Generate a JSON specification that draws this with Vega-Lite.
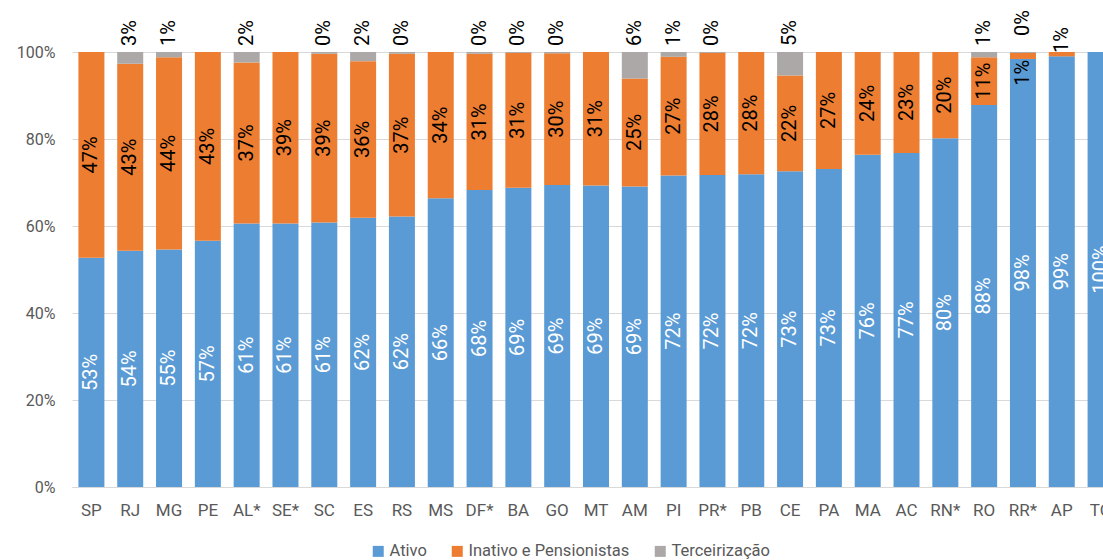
{
  "$schema": "https://vega.github.io/schema/vega-lite/v6.json",
  "width": 1031,
  "height": 435,
  "autosize": {"type": "none"},
  "padding": {"left": 72, "top": 52, "right": 0, "bottom": 73},
  "config": {"view": {"stroke": null}, "font": "Roboto"},
  "data": {"values": [
    {"uf": "SP", "tipo": "Ativo", "valor": 0.527}, {"uf": "SP", "tipo": "Inativo e Pensionistas", "valor": 0.473},
    {"uf": "RJ", "tipo": "Ativo", "valor": 0.543}, {"uf": "RJ", "tipo": "Inativo e Pensionistas", "valor": 0.430}, {"uf": "RJ", "tipo": "Terceirização", "valor": 0.027},
    {"uf": "MG", "tipo": "Ativo", "valor": 0.546}, {"uf": "MG", "tipo": "Inativo e Pensionistas", "valor": 0.442}, {"uf": "MG", "tipo": "Terceirização", "valor": 0.012},
    {"uf": "PE", "tipo": "Ativo", "valor": 0.566}, {"uf": "PE", "tipo": "Inativo e Pensionistas", "valor": 0.434},
    {"uf": "AL*", "tipo": "Ativo", "valor": 0.606}, {"uf": "AL*", "tipo": "Inativo e Pensionistas", "valor": 0.370}, {"uf": "AL*", "tipo": "Terceirização", "valor": 0.024},
    {"uf": "SE*", "tipo": "Ativo", "valor": 0.606}, {"uf": "SE*", "tipo": "Inativo e Pensionistas", "valor": 0.394},
    {"uf": "SC", "tipo": "Ativo", "valor": 0.608}, {"uf": "SC", "tipo": "Inativo e Pensionistas", "valor": 0.388}, {"uf": "SC", "tipo": "Terceirização", "valor": 0.004},
    {"uf": "ES", "tipo": "Ativo", "valor": 0.619}, {"uf": "ES", "tipo": "Inativo e Pensionistas", "valor": 0.360}, {"uf": "ES", "tipo": "Terceirização", "valor": 0.021},
    {"uf": "RS", "tipo": "Ativo", "valor": 0.622}, {"uf": "RS", "tipo": "Inativo e Pensionistas", "valor": 0.374}, {"uf": "RS", "tipo": "Terceirização", "valor": 0.004},
    {"uf": "MS", "tipo": "Ativo", "valor": 0.664}, {"uf": "MS", "tipo": "Inativo e Pensionistas", "valor": 0.336},
    {"uf": "DF*", "tipo": "Ativo", "valor": 0.683}, {"uf": "DF*", "tipo": "Inativo e Pensionistas", "valor": 0.313}, {"uf": "DF*", "tipo": "Terceirização", "valor": 0.004},
    {"uf": "BA", "tipo": "Ativo", "valor": 0.688}, {"uf": "BA", "tipo": "Inativo e Pensionistas", "valor": 0.310}, {"uf": "BA", "tipo": "Terceirização", "valor": 0.002},
    {"uf": "GO", "tipo": "Ativo", "valor": 0.694}, {"uf": "GO", "tipo": "Inativo e Pensionistas", "valor": 0.303}, {"uf": "GO", "tipo": "Terceirização", "valor": 0.003},
    {"uf": "MT", "tipo": "Ativo", "valor": 0.693}, {"uf": "MT", "tipo": "Inativo e Pensionistas", "valor": 0.307},
    {"uf": "AM", "tipo": "Ativo", "valor": 0.691}, {"uf": "AM", "tipo": "Inativo e Pensionistas", "valor": 0.248}, {"uf": "AM", "tipo": "Terceirização", "valor": 0.061},
    {"uf": "PI", "tipo": "Ativo", "valor": 0.716}, {"uf": "PI", "tipo": "Inativo e Pensionistas", "valor": 0.273}, {"uf": "PI", "tipo": "Terceirização", "valor": 0.011},
    {"uf": "PR*", "tipo": "Ativo", "valor": 0.717}, {"uf": "PR*", "tipo": "Inativo e Pensionistas", "valor": 0.281}, {"uf": "PR*", "tipo": "Terceirização", "valor": 0.002},
    {"uf": "PB", "tipo": "Ativo", "valor": 0.719}, {"uf": "PB", "tipo": "Inativo e Pensionistas", "valor": 0.281},
    {"uf": "CE", "tipo": "Ativo", "valor": 0.726}, {"uf": "CE", "tipo": "Inativo e Pensionistas", "valor": 0.220}, {"uf": "CE", "tipo": "Terceirização", "valor": 0.054},
    {"uf": "PA", "tipo": "Ativo", "valor": 0.731}, {"uf": "PA", "tipo": "Inativo e Pensionistas", "valor": 0.269},
    {"uf": "MA", "tipo": "Ativo", "valor": 0.764}, {"uf": "MA", "tipo": "Inativo e Pensionistas", "valor": 0.236},
    {"uf": "AC", "tipo": "Ativo", "valor": 0.768}, {"uf": "AC", "tipo": "Inativo e Pensionistas", "valor": 0.232},
    {"uf": "RN*", "tipo": "Ativo", "valor": 0.802}, {"uf": "RN*", "tipo": "Inativo e Pensionistas", "valor": 0.198},
    {"uf": "RO", "tipo": "Ativo", "valor": 0.878}, {"uf": "RO", "tipo": "Inativo e Pensionistas", "valor": 0.110}, {"uf": "RO", "tipo": "Terceirização", "valor": 0.012},
    {"uf": "RR*", "tipo": "Ativo", "valor": 0.984}, {"uf": "RR*", "tipo": "Inativo e Pensionistas", "valor": 0.014}, {"uf": "RR*", "tipo": "Terceirização", "valor": 0.002},
    {"uf": "AP", "tipo": "Ativo", "valor": 0.990}, {"uf": "AP", "tipo": "Inativo e Pensionistas", "valor": 0.010},
    {"uf": "TO", "tipo": "Ativo", "valor": 1.0}
  ]},
  "transform": [
    {"stack": "valor", "groupby": ["uf"], "sort": [{"field": "tipo", "order": "ascending"}], "as": ["v0", "v1"]},
    {"calculate": "(datum.v0 + datum.v1) / 2", "as": "meio"}
  ],
  "encoding": {
    "x": {
      "field": "uf", "type": "nominal", "sort": null,
      "scale": {"range": [0, 1048], "paddingInner": 0.33, "paddingOuter": 0.165},
      "axis": {"title": null, "labelAngle": 0, "labelFontSize": 17, "labelColor": "#595959", "labelPadding": 15, "ticks": false, "domainColor": "#D9D9D9", "domainWidth": 1}
    }
  },
  "layer": [
    {
      "mark": {"type": "bar"},
      "encoding": {
        "y": {"field": "v0", "type": "quantitative", "scale": {"domain": [0, 1]},
          "axis": {"title": null, "format": ".0%", "values": [0, 0.2, 0.4, 0.6, 0.8, 1], "labelFontSize": 16, "labelColor": "#595959", "labelPadding": 17, "ticks": false, "domain": false, "gridColor": "#D9D9D9", "gridWidth": 1}},
        "y2": {"field": "v1"},
        "color": {
          "field": "tipo", "type": "nominal",
          "scale": {"domain": ["Ativo", "Inativo e Pensionistas", "Terceirização"], "range": ["#5B9BD5", "#ED7D31", "#ABA8A7"]},
          "legend": {"title": null, "orient": "none", "direction": "horizontal", "legendX": 298, "legendY": 491, "symbolType": "square", "symbolSize": 121, "symbolStrokeWidth": 0, "labelFontSize": 16.5, "labelLimit": 400, "labelColor": "#595959", "columnPadding": 22, "labelOffset": 3, "padding": 0}
        }
      }
    },
    {
      "transform": [{"filter": "datum.tipo == 'Ativo'"}],
      "mark": {"type": "text", "angle": -90, "align": "center", "baseline": "middle", "fontSize": 20, "color": "white"},
      "encoding": {"y": {"field": "meio", "type": "quantitative"}, "text": {"field": "valor", "type": "quantitative", "format": ".0%"}}
    },
    {
      "transform": [{"filter": "datum.tipo == 'Inativo e Pensionistas' && datum.valor >= 0.05"}],
      "mark": {"type": "text", "angle": -90, "align": "center", "baseline": "middle", "fontSize": 20, "color": "black"},
      "encoding": {"y": {"field": "meio", "type": "quantitative"}, "text": {"field": "valor", "type": "quantitative", "format": ".0%"}}
    },
    {
      "transform": [{"filter": "datum.tipo == 'Inativo e Pensionistas' && datum.uf == 'RR*'"}],
      "mark": {"type": "text", "angle": -90, "align": "right", "baseline": "middle", "fontSize": 20, "color": "black", "dx": -1},
      "encoding": {"y": {"field": "v0", "type": "quantitative"}, "text": {"field": "valor", "type": "quantitative", "format": ".0%"}}
    },
    {
      "transform": [{"filter": "datum.tipo == 'Inativo e Pensionistas' && datum.uf == 'AP'"}],
      "mark": {"type": "text", "angle": -90, "align": "left", "baseline": "middle", "fontSize": 20, "color": "black", "dx": -1},
      "encoding": {"y": {"field": "v1", "type": "quantitative"}, "text": {"field": "valor", "type": "quantitative", "format": ".0%"}}
    },
    {
      "transform": [{"filter": "datum.tipo == 'Terceirização' && datum.uf != 'RR*'"}],
      "mark": {"type": "text", "angle": -90, "align": "left", "baseline": "middle", "fontSize": 20, "color": "black", "dx": 6},
      "encoding": {"y": {"field": "v1", "type": "quantitative"}, "text": {"field": "valor", "type": "quantitative", "format": ".0%"}}
    },
    {
      "transform": [{"filter": "datum.tipo == 'Terceirização' && datum.uf == 'RR*'"}],
      "mark": {"type": "text", "angle": -90, "align": "left", "baseline": "middle", "fontSize": 20, "color": "black", "dx": 16},
      "encoding": {"y": {"field": "v1", "type": "quantitative"}, "text": {"field": "valor", "type": "quantitative", "format": ".0%"}}
    }
  ]
}
